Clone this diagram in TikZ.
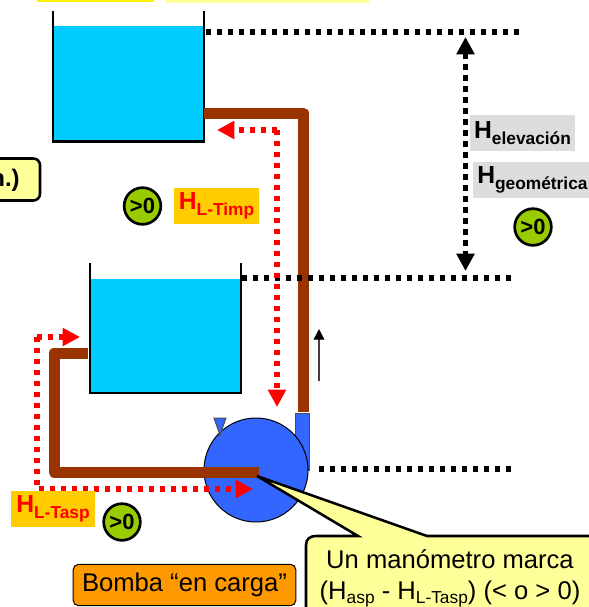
\documentclass[tikz,border=0pt]{standalone}
\usepackage{fontspec}
\setmainfont{Liberation Sans}
\usetikzlibrary{arrows.meta}
\definecolor{water}{HTML}{00CCFF}
\definecolor{pipe}{HTML}{993300}
\definecolor{lime}{HTML}{99CC00}
\definecolor{amber}{HTML}{FFCC00}
\definecolor{pale}{HTML}{FFFF99}
\definecolor{orng}{HTML}{FF9900}
\definecolor{pumpblue}{HTML}{3366FF}
\definecolor{lightgr}{HTML}{DDDDDD}
\tikzset{
  tank/.style={line width=1.6pt,draw=black},
  pipeline/.style={draw=pipe,line width=8.25pt,line join=round},
  blackdots/.style={draw=black,line width=4pt,dash pattern=on 4pt off 4.25pt},
  reddots/.style={draw=red,line width=4pt,dash pattern=on 4pt off 4.25pt,line join=round},
  redhead/.style={-{Triangle[length=13pt,width=13pt,color=red]}},
  blackhead/.style={{Triangle[length=13pt,width=13pt]}-{Triangle[length=13pt,width=13pt]}},
  gtzero/.style={circle,draw=black,fill=lime,line width=2pt,minimum size=27.5pt,inner sep=0pt,font=\bfseries\fontsize{16.5}{17}\selectfont},
  hbox/.style={inner sep=0pt,minimum height=27pt,font=\bfseries},
  note/.style={rounded corners=5pt,draw=black,fill=pale,line width=1.9pt},
}
\newcommand{\hlab}[1]{\raisebox{-1pt}{\fontsize{18.5}{20}\selectfont H\raisebox{-4.5pt}{\fontsize{13}{14}\selectfont #1}}}
\begin{document}
\begin{tikzpicture}[x=0.75pt,y=-0.75pt]
\useasboundingbox (0,0) rectangle (589,607);
\clip (0,0) rectangle (589,607);
% top strips
\fill[yellow] (37,-2) rectangle (154,2);
\fill[pale] (166,-2) rectangle (369,3);
% left note
\draw[note] (-60,158.5) rectangle (40,200.5);
\node[anchor=east,inner sep=0pt,font=\bfseries\fontsize{18}{20}\selectfont] (noteleft) at (20,180) {n.)};
% tanks
\fill[water] (53,26) rectangle (204,141);
\fill[water] (90,279) rectangle (241,394);
\draw[tank] (53,11) -- (53,141.5) -- (204,141.5) -- (204,11);
\draw[tank] (90,263) -- (90,393) -- (241,393) -- (241,263);
% pump
\coordinate (tri1) at (214,418);
\coordinate (tri2) at (226,418);
\coordinate (tri3) at (220,435);
\draw[fill=pumpblue,draw=black!70,line width=.75pt] (295,470) -- (295,413) -- (309,413) -- (309,470) -- cycle;
\node[circle,draw=black,fill=pumpblue,line width=.75pt,minimum size=78pt,inner sep=0pt] (pump) at (256,470) {};
\draw[fill=pumpblue,draw=black!70,line width=.75pt] (tri1) -- (tri2) -- (tri3) -- cycle;
% pipes
\coordinate (p1) at (204,113);
\coordinate (p2) at (303.5,113);
\coordinate (p3) at (303.5,412);
\coordinate (q1) at (88,353);
\coordinate (q2) at (54,353);
\coordinate (q3) at (54,472);
\coordinate (q4) at (259,472);
\draw[pipeline] (p1) -- (p2) -- (p3);
\draw[pipeline] (q1) -- (q2) -- (q3) -- (q4);
% level lines
\coordinate (a1) at (206,32);
\coordinate (a2) at (522,32);
\coordinate (b1) at (242,278);
\coordinate (b2) at (514,278);
\coordinate (c1) at (319,469);
\coordinate (c2) at (514,469);
\draw[blackdots] (a1) -- (a2);
\draw[blackdots] (b1) -- (b2);
\draw[blackdots] (c1) -- (c2);
% elevation arrow
\coordinate (e1) at (465.5,37);
\coordinate (e2) at (465.5,271);
\draw[blackdots,blackhead] (e1) -- (e2);
% flow arrow
\coordinate (f1) at (319,381);
\coordinate (f2) at (319,329);
\draw[line width=1pt,draw=black!75,-{Triangle[length=8pt,width=8pt,color=black]}] (f1) -- (f2);
% red loss arrows
\coordinate (r1) at (277,407);
\coordinate (r2) at (277,130);
\coordinate (r3) at (217,130);
\draw[reddots,redhead] (r2) -- (r1);
\draw[reddots,redhead] (r2) -- (r3);
\coordinate (s1) at (80,337);
\coordinate (s2) at (37,337);
\coordinate (s3) at (37,489);
\coordinate (s4) at (253,489);
\draw[reddots,redhead] (s2) -- (s1);
\draw[reddots,redhead] (s2) -- (s3) -- (s4);
% callout
\coordinate (tip) at (257,476);
\draw[note,sharp corners,line join=miter] (306,620) -- (306,545) .. controls (306,539) and (310,536) .. (316,536) -- (358,536) -- (tip) -- (427,536) -- (620,536) -- (620,620) -- cycle;
\node[inner sep=0pt,align=center,font=\fontsize{19.2}{23.2}\selectfont] (manometro) at (450,578) {Un manómetro marca\\(H\raisebox{-3pt}{\fontsize{13}{14}\selectfont asp} - H\raisebox{-3pt}{\fontsize{13}{14}\selectfont L-Tasp}) (< o > 0)};
% labels
\node[hbox,fill=lightgr,minimum width=78.75pt,text=black] (helev) at (522.5,133) {\hlab{elevación}};
\node[hbox,fill=lightgr,minimum width=90pt,text=black,anchor=west] (hgeo) at (473,180) {};
\node[anchor=west,inner sep=0pt,font=\bfseries] (hgeotext) at (477,180) {\hlab{geométrica}};
\node[hbox,fill=amber,minimum width=63.75pt,text=red] (htimp) at (216.5,206) {\hlab{L-Timp}};
\node[hbox,fill=amber,minimum width=63pt,text=red] (htasp) at (53,509) {\hlab{L-Tasp}};
\node[gtzero] (z1) at (142.5,206) {>0};
\node[gtzero] (z2) at (533,227) {>0};
\node[gtzero] (z3) at (122,522) {>0};
\node[rounded corners=4pt,draw=black,fill=orng,line width=.75pt,minimum width=167pt,minimum height=31pt,inner sep=0pt,font=\fontsize{19.2}{20}\selectfont] (bomba) at (184.5,585) {Bomba “en carga”};
\end{tikzpicture}
\end{document}
